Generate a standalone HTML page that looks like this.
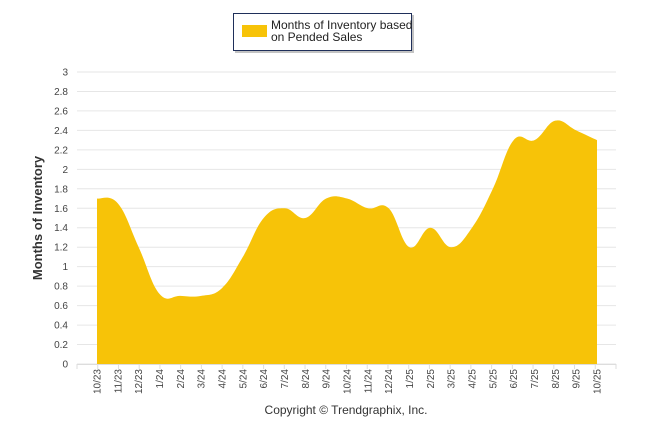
<!DOCTYPE html>
<html><head><meta charset="utf-8"><style>
body{margin:0;background:#fff;width:646px;height:434px;overflow:hidden;font-family:"Liberation Sans",sans-serif}
svg text{font-family:"Liberation Sans",sans-serif}
</style></head><body>
<svg id="chart" width="646" height="434" viewBox="0 0 646 434">
<g id="grid"></g>
<path id="area" fill="#F7C308"/>
<g id="axes"></g>
<g>
<rect x="235" y="15" width="179" height="38" fill="#888" opacity="0.5"/>
<rect x="233.5" y="13.5" width="178" height="37" fill="#fff" stroke="#1f2f5a" stroke-width="1"/>
<rect x="242" y="25" width="25" height="12" fill="#F7C308"/>
<text x="271" y="29" font-size="12" fill="#222">Months of Inventory based</text>
<text x="271" y="41" font-size="12" fill="#222">on Pended Sales</text>
</g>
<text transform="translate(42,218) rotate(-90)" text-anchor="middle" font-size="13" font-weight="bold" fill="#333">Months of Inventory</text>
<text x="346" y="414" text-anchor="middle" font-size="12" fill="#333">Copyright © Trendgraphix, Inc.</text>
</svg>
<script>
const categories=["10/23","11/23","12/23","1/24","2/24","3/24","4/24","5/24","6/24","7/24","8/24","9/24","10/24","11/24","12/24","1/25","2/25","3/25","4/25","5/25","6/25","7/25","8/25","9/25","10/25"];
const values=[1.7,1.65,1.2,0.72,0.7,0.7,0.78,1.1,1.5,1.6,1.5,1.7,1.7,1.6,1.6,1.2,1.4,1.2,1.4,1.8,2.3,2.3,2.5,2.4,2.3];
const yTicks=[0,0.2,0.4,0.6,0.8,1,1.2,1.4,1.6,1.8,2,2.2,2.4,2.6,2.8,3];
const NS="http://www.w3.org/2000/svg";
const x0=97,x1=597,yB=364,yT=72,yMax=3;
function xs(i){return x0+(x1-x0)*i/(categories.length-1);}
function ys(v){return yB-(yB-yT)*v/yMax;}
const grid=document.getElementById('grid'),axes=document.getElementById('axes');
yTicks.forEach(t=>{
 const l=document.createElementNS(NS,'line');
 l.setAttribute('x1',77);l.setAttribute('x2',616);l.setAttribute('y1',ys(t));l.setAttribute('y2',ys(t));
 l.setAttribute('stroke','#e6e6e6');
 
 
 grid.appendChild(l);
 const tx=document.createElementNS(NS,'text');
 tx.setAttribute('x',68);tx.setAttribute('y',ys(t)+3.5);tx.setAttribute('text-anchor','end');
 tx.setAttribute('font-size','10');tx.setAttribute('fill','#444');
 tx.textContent=String(t);
 
 
 axes.appendChild(tx);
});
const ax=document.createElementNS(NS,'line');
ax.setAttribute('x1',77);ax.setAttribute('x2',616);ax.setAttribute('y1',yB+0.5);ax.setAttribute('y2',yB+0.5);ax.setAttribute('stroke','#ddd');


axes.appendChild(ax);
const step=(x1-x0)/(categories.length-1);
for(let i=0;i<=categories.length+1;i++){
 const tk=document.createElementNS(NS,'line');
 const xx=77+i*step*(539/ (step*(categories.length+1)));
 tk.setAttribute('x1',xx);tk.setAttribute('x2',xx);tk.setAttribute('y1',yB);tk.setAttribute('y2',yB+5);tk.setAttribute('stroke','#ddd');
 
 
 axes.appendChild(tk);
}
categories.forEach((c,i)=>{
 const tx=document.createElementNS(NS,'text');
 tx.setAttribute('transform','translate('+(xs(i)+3.5)+','+(yB+5)+') rotate(-90)');
 tx.setAttribute('text-anchor','end');tx.setAttribute('font-size','10');tx.setAttribute('fill','#444');
 tx.textContent=c;
 
 
 axes.appendChild(tx);
});
const P=values.map((v,i)=>[xs(i),ys(v)]);
let d='M'+P[0][0]+','+yB+' L'+P[0][0]+','+P[0][1];
for(let i=0;i<P.length-1;i++){
 const p0=P[Math.max(i-1,0)],p1=P[i],p2=P[i+1],p3=P[Math.min(i+2,P.length-1)];
 const t=0.2;
 const c1=[p1[0]+(p2[0]-p0[0])*t,p1[1]+(p2[1]-p0[1])*t];
 const c2=[p2[0]-(p3[0]-p1[0])*t,p2[1]-(p3[1]-p1[1])*t];
 d+=' C'+c1+' '+c2+' '+p2;
}
d+=' L'+P[P.length-1][0]+','+yB+' Z';
document.getElementById('area').setAttribute('d',d);
</script>
</body></html>
